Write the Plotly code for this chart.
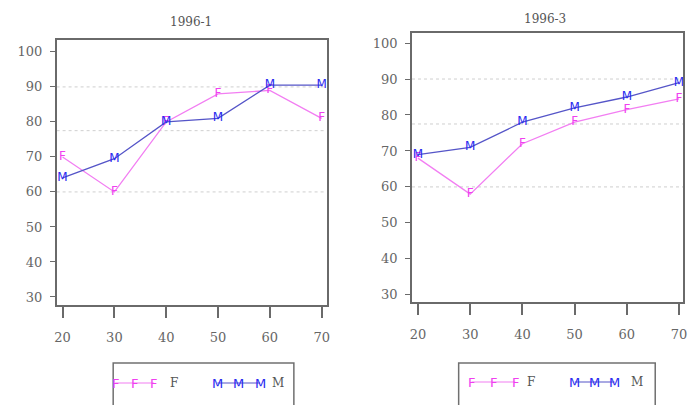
import plotly.graph_objects as go

W, H = 689, 405

ages = [20, 30, 40, 50, 60, 70]
panel_titles = ["1996-1", "1996-3"]
f_1996_1 = [70, 60, 80, 88, 89, 81]
m_1996_1 = [64, 69.5, 80, 81, 90.5, 90.5]
f_1996_3 = [68, 58, 72, 78, 81.5, 84.5]
m_1996_3 = [69, 71, 78, 82, 85, 89]
ref_lines = [60, 77.5, 90]
y_ticks = [30, 40, 50, 60, 70, 80, 90, 100]
series_labels = ["F", "M"]

F_LINE, F_TXT = "#f27ef2", "#f040f0"
M_LINE, M_TXT = "#5555c8", "#2a2af0"
AX = "#6a6a6a"
FONT = "DejaVu Serif"


def px(x):
    return x / W


def py(y):
    return 1 - y / H


fig = go.Figure()

panels = [
    dict(f=f_1996_1, m=m_1996_1, xa="x", ya="y"),
    dict(f=f_1996_3, m=m_1996_3, xa="x2", ya="y2"),
]

for p in panels:
    for vals, lab, lc, tc in [(p["f"], "F", F_LINE, F_TXT), (p["m"], "M", M_LINE, M_TXT)]:
        fig.add_trace(go.Scatter(
            x=ages, y=vals, mode="lines+text", text=[lab] * len(ages),
            textposition="middle center",
            textfont=dict(family="DejaVu Sans", size=12, color=tc),
            line=dict(color=lc, width=1.3), xaxis=p["xa"], yaxis=p["ya"],
            showlegend=False, cliponaxis=False, hoverinfo="skip"))

common_x = dict(tickvals=ages, ticks="outside", ticklen=11, tickcolor=AX, tickwidth=1.5,
                showline=True, linecolor=AX, linewidth=1.5, mirror=True, showgrid=False,
                zeroline=False, ticklabelstandoff=9,
                tickfont=dict(family=FONT, size=13, color="#666"))
common_y = dict(tickvals=y_ticks, ticks="outside", ticklen=5, tickcolor=AX, tickwidth=1.2,
                showline=True, linecolor=AX, linewidth=1.5, mirror=True, showgrid=False,
                zeroline=False, ticklabelstandoff=5,
                tickfont=dict(family=FONT, size=13, color="#666"))

fig.update_layout(
    width=W, height=H, margin=dict(l=0, r=0, t=0, b=0),
    paper_bgcolor="white", plot_bgcolor="white", showlegend=False,
    xaxis=dict(domain=[px(55), px(327)], range=[18.85, 70.96], anchor="y", **common_x),
    yaxis=dict(domain=[py(305), py(40)], range=[27.7, 103.4], anchor="x", **common_y),
    xaxis2=dict(domain=[px(413), px(686)], range=[18.86, 70.76], anchor="y2", **common_x),
    yaxis2=dict(domain=[py(302), py(33)], range=[28.0, 102.8], anchor="x2", **common_y),
)

shapes = []
annotations = []

# reference dotted lines
for xr, yr in [("x", "y"), ("x2", "y2")]:
    for v in ref_lines:
        shapes.append(dict(type="line", xref=f"{xr} domain", yref=yr, x0=0, x1=1, y0=v, y1=v,
                           line=dict(color="#cfcfcf", width=1, dash="dot"), layer="below"))

# titles
for title, cx, cy in [(panel_titles[0], 190, 22), (panel_titles[1], 547, 19)]:
    annotations.append(dict(text=title, x=px(cx), y=py(cy), xref="paper", yref="paper",
                            showarrow=False, font=dict(family=FONT, size=12, color="#555"),
                            xanchor="center", yanchor="middle"))

# legends (boxes below each panel)
legend_specs = [
    dict(box=(112, 294), f_glyphs=[114, 133, 153], f_text=173,
         m_glyphs=[217, 238, 260], m_text=278, yc=383),
    dict(box=(460, 658), f_glyphs=[473, 495, 517], f_text=533,
         m_glyphs=[577, 597, 617], m_text=640, yc=382),
]
for spec in legend_specs:
    x0, x1 = spec["box"]
    shapes.append(dict(type="rect", xref="paper", yref="paper", x0=px(x0), x1=px(x1),
                       y0=py(363), y1=py(412), line=dict(color="#707070", width=1.5),
                       fillcolor="white", layer="below"))
    for glyphs, txt_x, lab, lc, tc in [(spec["f_glyphs"], spec["f_text"], series_labels[0], F_LINE, F_TXT),
                                       (spec["m_glyphs"], spec["m_text"], series_labels[1], M_LINE, M_TXT)]:
        shapes.append(dict(type="line", xref="paper", yref="paper", x0=px(glyphs[0]), x1=px(glyphs[-1]),
                           y0=py(spec["yc"]), y1=py(spec["yc"]), line=dict(color=lc, width=1.2)))
        for g in glyphs:
            annotations.append(dict(text=lab, x=px(g), y=py(spec["yc"]), xref="paper", yref="paper",
                                    showarrow=False, font=dict(family="DejaVu Sans", size=13, color=tc),
                                    xanchor="center", yanchor="middle"))
        annotations.append(dict(text=lab, x=px(txt_x), y=py(spec["yc"]), xref="paper", yref="paper",
                                showarrow=False, font=dict(family=FONT, size=12, color="#555"),
                                xanchor="center", yanchor="middle"))

fig.update_layout(shapes=shapes, annotations=annotations)
fig.write_html("out.html")
